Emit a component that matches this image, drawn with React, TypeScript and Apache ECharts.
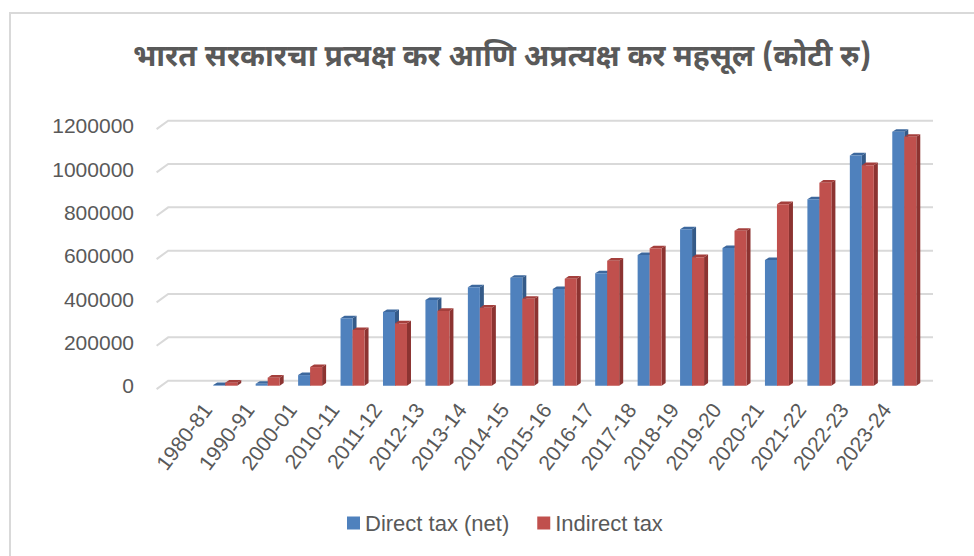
import React, { useEffect, useRef } from "react";
import * as echarts from "echarts";

const categories = [
  "1980-81", "1990-91", "2000-01", "2010-11", "2011-12", "2012-13", "2013-14",
  "2014-15", "2015-16", "2016-17", "2017-18", "2018-19", "2019-20", "2020-21",
  "2021-22", "2022-23", "2023-24",
];
const directTax = [
  3000, 9000, 49000, 311000, 340000, 395000, 454000, 498000, 446000, 519000,
  603000, 722000, 635000, 580000, 860000, 1063000, 1172000,
];
const indirectTax = [
  14000, 37000, 86000, 257000, 288000, 345000, 360000, 401000, 494000, 577000,
  634000, 593000, 715000, 838000, 937000, 1018000, 1149000,
];
const yTicks = [0, 200000, 400000, 600000, 800000, 1000000, 1200000];

const TITLE = "भारत सरकारचा प्रत्यक्ष कर आणि अप्रत्यक्ष कर महसूल (कोटी रु)";
const SERIES_NAMES = ["Direct tax (net)", "Indirect tax"];

const BAR_W = 12;
const DEPTH_X = 4;
const DEPTH_Y = 2.6;
const GRID_LEFT = 204;
const GRID_RIGHT = 48.5;
const GRID_TOP = 125.7;
const GRID_BOTTOM = 556 - 385.7;
const TEXT_COLOR = "#595959";
const LATIN = "'Liberation Sans', Arial, sans-serif";

const palette = [
  { front: "#4f81bd", side: "#345a88", top: "#3d689d" },
  { front: "#c0504d", side: "#8c3331", top: "#a43f3c" },
];

function barRenderer(seriesIdx: number) {
  return (params: any, api: any) => {
    const idx = api.value(0);
    const v = api.value(1);
    const topPt = api.coord([idx, v]);
    const basePt = api.coord([idx, 0]);
    const x = seriesIdx === 0 ? topPt[0] - BAR_W : topPt[0];
    const yTop = topPt[1];
    const yBase = basePt[1];
    const c = palette[seriesIdx];
    return {
      type: "group",
      children: [
        {
          type: "polygon",
          shape: {
            points: [
              [x + BAR_W, yTop],
              [x + BAR_W + DEPTH_X, yTop - DEPTH_Y],
              [x + BAR_W + DEPTH_X, yBase - DEPTH_Y],
              [x + BAR_W, yBase],
            ],
          },
          style: { fill: c.side },
        },
        {
          type: "polygon",
          shape: {
            points: [
              [x, yTop],
              [x + DEPTH_X, yTop - DEPTH_Y],
              [x + BAR_W + DEPTH_X, yTop - DEPTH_Y],
              [x + BAR_W, yTop],
            ],
          },
          style: { fill: c.top },
        },
        {
          type: "rect",
          shape: { x, y: yTop, width: BAR_W, height: Math.max(yBase - yTop, 0) },
          style: { fill: c.front },
        },
      ],
    };
  };
}

function gridRenderer(params: any, api: any) {
  const v = api.value(1);
  const y = api.coord([0, v])[1];
  const cs = params.coordSys;
  return {
    type: "polyline",
    shape: {
      points: [
        [cs.x - 47.4, y + 3.4],
        [cs.x - 35.8, y - 5],
        [cs.x + cs.width + 7.5, y - 5],
      ],
    },
    style: { stroke: "#d9d9d9", lineWidth: 2, fill: "none" },
  };
}

export default function App() {
  const ref = useRef<HTMLDivElement>(null);
  useEffect(() => {
    if (!ref.current) return;
    const chart = echarts.init(ref.current, undefined, { renderer: "svg" });
    chart.setOption({
      animation: false,
      backgroundColor: "#ffffff",
      title: {
        text: TITLE,
        left: 497,
        top: 38,
        textAlign: "center",
        textStyle: {
          color: TEXT_COLOR,
          fontSize: 30,
          fontWeight: "bold",
          fontFamily: "'Noto Sans Devanagari', 'Lohit Devanagari', FreeSans, 'Noto Sans', sans-serif",
        },
      },
      graphic: [
        {
          type: "rect",
          shape: { x: 10, y: 13, width: 1000, height: 600 },
          style: { fill: "none", stroke: "#d9d9d9", lineWidth: 2 },
          silent: true,
        },
      ],
      legend: {
        left: 342,
        top: 507,
        itemWidth: 13,
        itemHeight: 13,
        itemGap: 28,
        textStyle: { color: TEXT_COLOR, fontSize: 22, fontFamily: LATIN },
        data: [
          { name: SERIES_NAMES[0], icon: "rect", itemStyle: { color: palette[0].front } },
          { name: SERIES_NAMES[1], icon: "rect", itemStyle: { color: palette[1].front } },
        ],
      },
      grid: [
        { left: GRID_LEFT, right: GRID_RIGHT, top: GRID_TOP, bottom: GRID_BOTTOM },
        { left: GRID_LEFT - 18, right: GRID_RIGHT + 18, top: GRID_TOP, bottom: GRID_BOTTOM },
      ],
      xAxis: [
        {
          gridIndex: 0,
          type: "category",
          data: categories,
          axisLine: { show: false },
          axisTick: { show: false },
          axisLabel: { show: false },
          splitLine: { show: false },
        },
        {
          gridIndex: 1,
          type: "category",
          data: categories,
          axisLine: { show: false },
          axisTick: { show: false },
          axisLabel: {
            rotate: 53,
            margin: 20,
            color: TEXT_COLOR,
            fontSize: 21,
            fontFamily: LATIN,
            interval: 0,
          },
        },
      ],
      yAxis: [
        {
          gridIndex: 0,
          type: "value",
          min: 0,
          max: 1200000,
          interval: 200000,
          axisLine: { show: false },
          axisTick: { show: false },
          splitLine: { show: false },
          axisLabel: {
            margin: 70,
            color: TEXT_COLOR,
            fontSize: 21,
            fontFamily: LATIN,
            padding: [6, 0, 0, 0],
            formatter: (v: number) => String(v),
          },
        },
        {
          gridIndex: 1,
          type: "value",
          min: 0,
          max: 1200000,
          interval: 200000,
          show: false,
        },
      ],
      series: [
        {
          type: "custom",
          name: "grid",
          xAxisIndex: 0,
          yAxisIndex: 0,
          silent: true,
          z: 1,
          renderItem: gridRenderer,
          encode: { x: 0, y: 1 },
          data: yTicks.map((t) => [0, t]),
        },
        {
          type: "custom",
          name: SERIES_NAMES[0],
          xAxisIndex: 0,
          yAxisIndex: 0,
          z: 2,
          itemStyle: { color: palette[0].front },
          renderItem: barRenderer(0),
          encode: { x: 0, y: 1 },
          data: directTax.map((v, i) => [i, v]),
        },
        {
          type: "custom",
          name: SERIES_NAMES[1],
          xAxisIndex: 0,
          yAxisIndex: 0,
          z: 3,
          itemStyle: { color: palette[1].front },
          renderItem: barRenderer(1),
          encode: { x: 0, y: 1 },
          data: indirectTax.map((v, i) => [i, v]),
        },
      ],
    });
    return () => chart.dispose();
  }, []);
  return (
    <div
      ref={ref}
      style={{ position: "absolute", left: 0, top: 0, width: 974, height: 556 }}
    />
  );
}
